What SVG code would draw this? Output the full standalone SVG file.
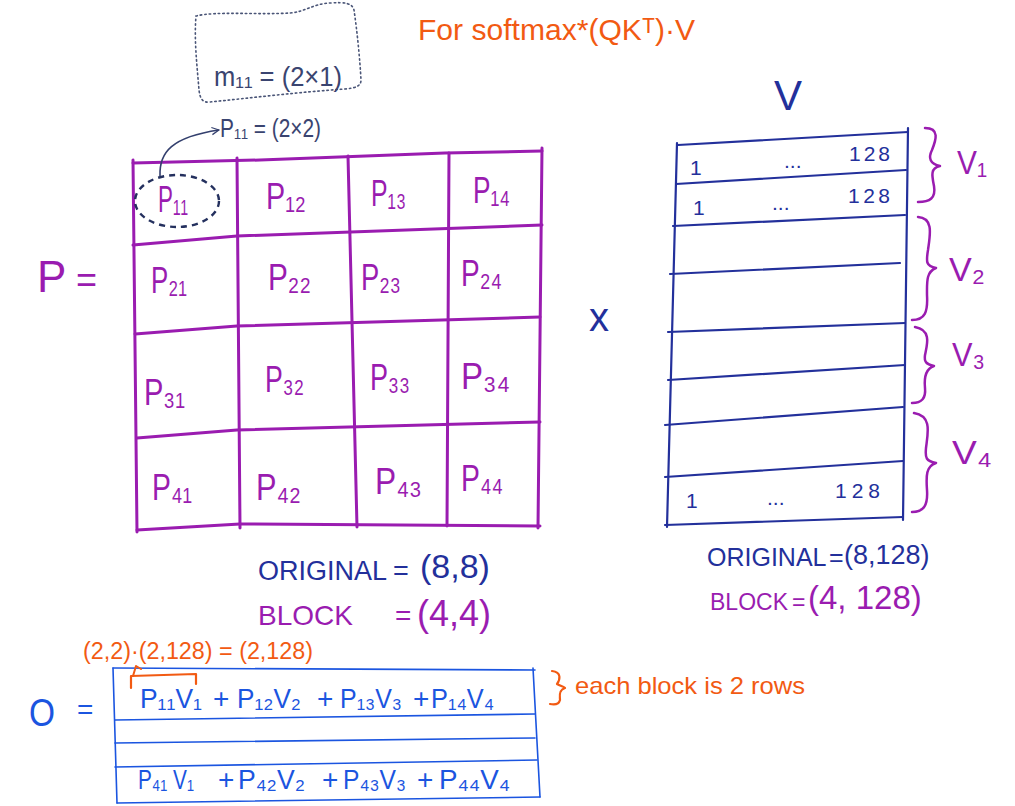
<svg xmlns="http://www.w3.org/2000/svg" width="1015" height="806" viewBox="0 0 1015 806">
<defs>
<style>
text{font-family:'Liberation Sans','DejaVu Sans',sans-serif}
.pur{fill:#9a1cb0}
.dkb{fill:#23309b}
.nav{fill:#3a4470}
.org{fill:#f25a12}
.brb{fill:#1b55e0}
.pgrid{fill:none;stroke:#9a1cb0;stroke-width:3;stroke-linecap:round;stroke-linejoin:round}
.vgrid{fill:none;stroke:#23309b;stroke-width:2.2;stroke-linecap:round}
.ogrid{fill:none;stroke:#1b55e0;stroke-width:1.6;stroke-linecap:round}
.brace{fill:none;stroke:#9a1cb0;stroke-width:2.5;stroke-linecap:round;stroke-linejoin:round}
.pl{font-size:37px}
.vn{font-size:21px}
.ot{font-size:28px}
</style>
<marker id="arr" viewBox="0 0 10 10" refX="9" refY="5" markerWidth="9" markerHeight="9" orient="auto" markerUnits="userSpaceOnUse">
<path d="M1,1 L9,5 L1,9" fill="none" stroke="#34406e" stroke-width="1.4"/>
</marker>
</defs>
<rect width="1015" height="806" fill="#ffffff"/>

<g id="title">
<text class="org" font-size="30" x="418" y="40" textLength="277" lengthAdjust="spacingAndGlyphs">For softmax*(QKᵀ)·V</text>
</g>

<g id="m11-note">
<path d="M196,16 C215,11 260,15 290,13 C305,12 312,4 330,3 C345,2 352,3 354,10 C357,30 360,60 361,80 C361,86 356,88 345,89 C300,92 250,98 210,102 C202,103 200,98 199,90 C197,65 194,40 196,16 Z" fill="none" stroke="#4a5577" stroke-width="1.6" stroke-dasharray="1.5 3" stroke-linecap="round"/>
<text class="nav" x="214" y="86" font-size="27" textLength="128" lengthAdjust="spacingAndGlyphs">m₁₁ = (2×1)</text>
</g>

<g id="p11-note">
<text class="nav" x="220" y="137" font-size="26" textLength="101" lengthAdjust="spacingAndGlyphs">P₁₁ = (2×2)</text>
</g>

<g id="P-label">
<text class="pur" x="37" y="292" font-size="44">P</text>
<text class="pur" x="76" y="292" font-size="36">=</text>
</g>

<g id="P-matrix">
<polyline class="pgrid" points="133,163 260,160 445,153 542,151"/>
<polyline class="pgrid" points="133,245 237,236 542,225"/>
<polyline class="pgrid" points="135,334 237,326 540,317"/>
<polyline class="pgrid" points="137,438 237,430 540,422"/>
<polyline class="pgrid" points="137,530 240,524 540,526"/>
<line class="pgrid" x1="133" y1="160" x2="137" y2="532"/>
<line class="pgrid" x1="237" y1="158" x2="240" y2="528"/>
<line class="pgrid" x1="348" y1="156" x2="357" y2="527"/>
<line class="pgrid" x1="449" y1="153" x2="447" y2="526"/>
<line class="pgrid" x1="542" y1="148" x2="538" y2="528"/>
<ellipse cx="177" cy="201" rx="42" ry="26" fill="none" stroke="#24305e" stroke-width="2.4" stroke-dasharray="6 5"/>
<text class="pur pl" x="158" y="212" textLength="30" lengthAdjust="spacingAndGlyphs">P₁₁</text>
<text class="pur pl" x="266" y="209" textLength="40" lengthAdjust="spacingAndGlyphs">P₁₂</text>
<text class="pur pl" x="371" y="206" textLength="35" lengthAdjust="spacingAndGlyphs">P₁₃</text>
<text class="pur pl" x="473" y="203" textLength="37" lengthAdjust="spacingAndGlyphs">P₁₄</text>
<text class="pur pl" x="151" y="293" textLength="36" lengthAdjust="spacingAndGlyphs">P₂₁</text>
<text class="pur pl" x="268" y="290" textLength="43" lengthAdjust="spacingAndGlyphs">P₂₂</text>
<text class="pur pl" x="361" y="290" textLength="40" lengthAdjust="spacingAndGlyphs">P₂₃</text>
<text class="pur pl" x="461" y="286" textLength="41" lengthAdjust="spacingAndGlyphs">P₂₄</text>
<text class="pur pl" x="144" y="405" textLength="41" lengthAdjust="spacingAndGlyphs">P₃₁</text>
<text class="pur pl" x="265" y="392" textLength="39" lengthAdjust="spacingAndGlyphs">P₃₂</text>
<text class="pur pl" x="370" y="390" textLength="40" lengthAdjust="spacingAndGlyphs">P₃₃</text>
<text class="pur pl" x="461" y="389" textLength="49" lengthAdjust="spacingAndGlyphs">P₃₄</text>
<text class="pur pl" x="152" y="500" textLength="40" lengthAdjust="spacingAndGlyphs">P₄₁</text>
<text class="pur pl" x="256" y="500" textLength="45" lengthAdjust="spacingAndGlyphs">P₄₂</text>
<text class="pur pl" x="375" y="494" textLength="47" lengthAdjust="spacingAndGlyphs">P₄₃</text>
<text class="pur pl" x="461" y="491" textLength="42" lengthAdjust="spacingAndGlyphs">P₄₄</text>
</g>

<g id="P-dims">
<text class="dkb" x="258" y="580" font-size="27">ORIGINAL</text>
<text class="dkb" x="393" y="580" font-size="27">=</text>
<text class="dkb" x="420" y="578" font-size="34">(8,8)</text>
<text class="pur" x="258" y="625" font-size="28">BLOCK</text>
<text class="pur" x="395" y="625" font-size="28">=</text>
<text class="pur" x="417" y="626" font-size="36">(4,4)</text>
</g>

<g id="times">
<text class="dkb" x="589" y="331" font-size="40">x</text>
</g>

<g id="V-matrix">
<text class="dkb" x="774" y="110" font-size="42">V</text>
<line class="vgrid" x1="677" y1="143" x2="667" y2="527"/>
<line class="vgrid" x1="908" y1="128" x2="903" y2="520"/>
<line class="vgrid" x1="678" y1="145" x2="908" y2="132"/>
<line class="vgrid" x1="676" y1="184" x2="906" y2="170"/>
<line class="vgrid" x1="673" y1="226" x2="905" y2="215"/>
<line class="vgrid" x1="670" y1="274" x2="900" y2="263"/>
<line class="vgrid" x1="668" y1="332" x2="905" y2="323"/>
<line class="vgrid" x1="668" y1="380" x2="905" y2="365"/>
<line class="vgrid" x1="665" y1="425" x2="903" y2="407"/>
<line class="vgrid" x1="665" y1="477" x2="903" y2="461"/>
<line class="vgrid" x1="665" y1="525" x2="903" y2="517"/>
<text class="dkb vn" x="690" y="175">1</text>
<text class="dkb vn" x="784" y="168">...</text>
<text class="dkb vn" x="849" y="161" textLength="41">128</text>
<text class="dkb vn" x="693" y="215">1</text>
<text class="dkb vn" x="772" y="210">...</text>
<text class="dkb vn" x="848" y="203" textLength="42">128</text>
<text class="dkb vn" x="686" y="508">1</text>
<text class="dkb vn" x="767" y="505">...</text>
<text class="dkb vn" x="835" y="498" textLength="45">128</text>
</g>

<g id="V-blocks">
<path class="brace" d="M925,128 C940,128 936,140 932,150 C928,158 930,164 940,166 C930,168 932,176 934,186 C936,198 930,202 918,202"/>
<path class="brace" d="M918,217 C934,218 930,235 928,250 C926,262 926,266 936,268 C926,272 927,282 927,295 C928,312 925,320 912,320"/>
<path class="brace" d="M915,327 C932,330 927,345 925,355 C924,362 926,364 934,366 C925,369 924,378 925,388 C926,398 922,403 912,403"/>
<path class="brace" d="M914,413 C932,416 928,432 926,448 C925,458 926,461 936,463 C926,466 926,476 927,490 C928,505 924,512 912,512"/>
<text class="pur" x="957" y="174" font-size="34" textLength="30" lengthAdjust="spacingAndGlyphs">V₁</text>
<text class="pur" x="949" y="281" font-size="34" textLength="36" lengthAdjust="spacingAndGlyphs">V₂</text>
<text class="pur" x="952" y="366" font-size="34" textLength="33" lengthAdjust="spacingAndGlyphs">V₃</text>
<text class="pur" x="952" y="464" font-size="34" textLength="40" lengthAdjust="spacingAndGlyphs">V₄</text>
</g>

<g id="V-dims">
<text class="dkb" x="707" y="566" font-size="25">ORIGINAL</text>
<text class="dkb" x="829" y="566" font-size="25">=</text>
<text class="dkb" x="844" y="564" font-size="27">(8,128)</text>
<text class="pur" x="710" y="610" font-size="23">BLOCK</text>
<text class="pur" x="792" y="610" font-size="23">=</text>
<text class="pur" x="808" y="609" font-size="33">(4, 128)</text>
</g>

<g id="O-label">
<text class="brb" x="29" y="726" font-size="38" textLength="26" lengthAdjust="spacingAndGlyphs">O</text>
<text class="brb" x="77" y="719" font-size="28">=</text>
</g>

<g id="O-matrix">
<line class="ogrid" x1="113" y1="668" x2="117" y2="803"/>
<line class="ogrid" x1="533" y1="668" x2="540" y2="797"/>
<line class="ogrid" x1="113" y1="668" x2="535" y2="670"/>
<line class="ogrid" x1="115" y1="720" x2="535" y2="714"/>
<line class="ogrid" x1="115" y1="743" x2="535" y2="738"/>
<line class="ogrid" x1="115" y1="767" x2="537" y2="760"/>
<line class="ogrid" x1="117" y1="803" x2="540" y2="797"/>
<text class="brb ot" x="140" y="708" textLength="62" lengthAdjust="spacingAndGlyphs">P₁₁V₁</text>
<text class="brb ot" x="213" y="708">+</text>
<text class="brb ot" x="237" y="708" textLength="64" lengthAdjust="spacingAndGlyphs">P₁₂V₂</text>
<text class="brb ot" x="317" y="708">+</text>
<text class="brb ot" x="340" y="708" textLength="62" lengthAdjust="spacingAndGlyphs">P₁₃V₃</text>
<text class="brb ot" x="413" y="708">+</text>
<text class="brb ot" x="431" y="708" textLength="63" lengthAdjust="spacingAndGlyphs">P₁₄V₄</text>
<text class="brb ot" x="138" y="789" textLength="56" lengthAdjust="spacingAndGlyphs">P₄₁ V₁</text>
<text class="brb ot" x="218" y="789">+</text>
<text class="brb ot" x="238" y="789" textLength="67" lengthAdjust="spacingAndGlyphs">P₄₂V₂</text>
<text class="brb ot" x="322" y="789">+</text>
<text class="brb ot" x="343" y="789" textLength="63" lengthAdjust="spacingAndGlyphs">P₄₃V₃</text>
<text class="brb ot" x="417" y="789">+</text>
<text class="brb ot" x="439" y="789" textLength="71" lengthAdjust="spacingAndGlyphs">P₄₄V₄</text>
</g>

<g id="O-notes">
<text class="org" x="83" y="659" font-size="23" textLength="230" lengthAdjust="spacingAndGlyphs">(2,2)·(2,128) = (2,128)</text>
<path d="M552,671 C562,672 560,680 557,684 C560,686 565,687 565,688 C558,690 560,697 560,700 C559,704 555,705 550,704" fill="none" stroke="#f25a12" stroke-width="2.2" stroke-linecap="round" stroke-linejoin="round"/>
<text class="org" x="575" y="694" font-size="24" textLength="230" lengthAdjust="spacingAndGlyphs">each block is 2 rows</text>
</g>

<g id="connectors">
<path d="M160,176 C159,152 172,137 219,130" fill="none" stroke="#34406e" stroke-width="1.6" marker-end="url(#arr)"/>
<path d="M131,688 L131,676 L196,674 L196,684" fill="none" stroke="#f25a12" stroke-width="2.2" stroke-linecap="round" stroke-linejoin="round"/>
<path d="M133,676 L136,666 L141,669" fill="none" stroke="#f25a12" stroke-width="2" stroke-linecap="round" stroke-linejoin="round"/>
</g>
</svg>
